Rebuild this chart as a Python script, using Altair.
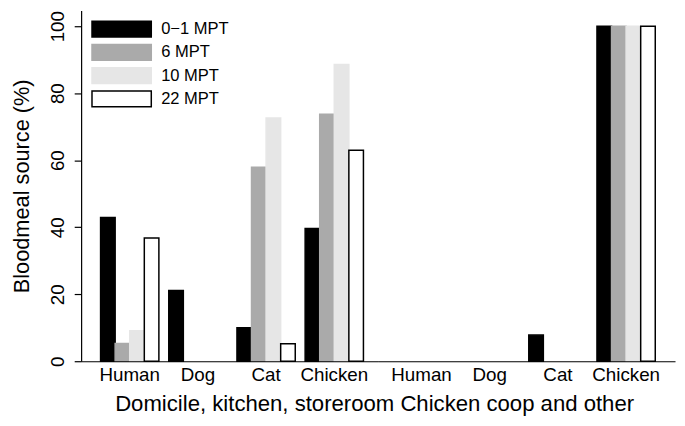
import altair as alt
import pandas as pd

# ---- data ----
animals = ["Human", "Dog", "Cat", "Chicken"]
series = ["0−1 MPT", "6 MPT", "10 MPT", "22 MPT"]
locations = ["Domicile, kitchen, storeroom", "Chicken coop and other"]

dom_0_1 = [42.9, 21.1, 10.0, 39.6]
dom_6 = [5.3, 0.0, 57.9, 73.7]
dom_10 = [9.1, 0.0, 72.6, 88.6]
dom_22 = [36.8, 0.0, 5.2, 63.0]

coop_0_1 = [0.0, 0.0, 7.8, 100.0]
coop_6 = [0.0, 0.0, 0.0, 100.0]
coop_10 = [0.0, 0.0, 0.0, 100.0]
coop_22 = [0.0, 0.0, 0.0, 100.0]

y_ticks = [0, 20, 40, 60, 80, 100]

fill_colors = ["#000000", "#aaaaaa", "#e6e6e6", "#ffffff"]
stroke_colors = ["#000000", "#aaaaaa", "#e6e6e6", "#000000"]

FONT = "Liberation Sans"

rows = []
for loc, arrays in zip(locations, [[dom_0_1, dom_6, dom_10, dom_22],
                                    [coop_0_1, coop_6, coop_10, coop_22]]):
    for s, vals in zip(series, arrays):
        for a, v in zip(animals, vals):
            rows.append({"location": loc, "animal": a, "series": s, "value": v})
df = pd.DataFrame(rows)

W, H = 601, 355

legend = alt.Legend(
    title=None, orient="none", legendX=32, legendY=10,
    symbolType="M-3.75,-1H3.75V1H-3.75Z", symbolSize=256,
    symbolStrokeWidth=1.5, symbolOpacity=1,
    labelFontSize=16.7, labelFont=FONT, labelColor="black",
    labelOffset=31, rowPadding=1.5, padding=0,
)

y_axis = alt.Axis(
    values=y_ticks, title="Bloodmeal source (%)", titleFontSize=22,
    titleFont=FONT, titleFontWeight="normal", titleColor="black",
    titleX=-48, titleY=H / 2, titleAngle=270, titleAlign="center",
    titleBaseline="bottom",
    labelAngle=270, labelAlign="center",
    labelBaseline="alphabetic", labelFontSize=19, labelFont=FONT,
    labelColor="black", labelPadding=11, tickSize=7,
    tickColor="black", tickWidth=1.2, domainColor="black",
    domainWidth=1.2, grid=False, zindex=1,
)


def half(loc, rng, p_outer, align, first):
    x_axis = alt.Axis(
        title=None, orient="bottom", labelAngle=0, labelFontSize=19,
        labelFont=FONT, labelColor="black", ticks=False, tickSize=0,
        labelPadding=5, domainColor="black", domainWidth=1.2, zindex=1,
    )
    return alt.Chart(df[df["location"] == loc]).transform_filter(
        "datum.value > 0"
    ).mark_bar(strokeWidth=1.5).encode(
        x=alt.X("animal:N", sort=animals,
                scale=alt.Scale(domain=animals, range=rng,
                                paddingInner=10 / 69, paddingOuter=p_outer,
                                align=align, round=False),
                axis=x_axis),
        xOffset=alt.XOffset("series:N", sort=series,
                            scale=alt.Scale(domain=series, paddingInner=0,
                                            paddingOuter=0, round=False)),
        y=alt.Y("value:Q", scale=alt.Scale(domain=[0, 104.7], nice=False),
                axis=y_axis),
        fill=alt.Fill("series:N", sort=series,
                      scale=alt.Scale(domain=series, range=fill_colors),
                      legend=legend if first else None),
        stroke=alt.Stroke("series:N", sort=series,
                          scale=alt.Scale(domain=series, range=stroke_colors),
                          legend=legend if first else None),
    )


left = half(locations[0], [0, 300], 0.2464, 0.579, True)
right = half(locations[1], [300, 601], 0.2536, 0.4286, False)

chart = alt.layer(left, right).resolve_scale(x="independent").resolve_axis(
    x="independent"
).properties(
    width=W, height=H,
    padding={"left": 74, "top": 0, "right": 2, "bottom": 55},
    autosize=alt.AutoSizeParams(type="none"),
    title=alt.TitleParams(
        text=" ".join(locations), orient="bottom", anchor="middle",
        frame="group", fontSize=22.4, fontWeight="normal", color="black",
        font=FONT, offset=8, dx=-3.5,
    ),
).configure(font=FONT, background="white").configure_view(
    stroke=None, strokeWidth=0)

chart.save("out.html", embed_options={"renderer": "svg", "actions": False})
